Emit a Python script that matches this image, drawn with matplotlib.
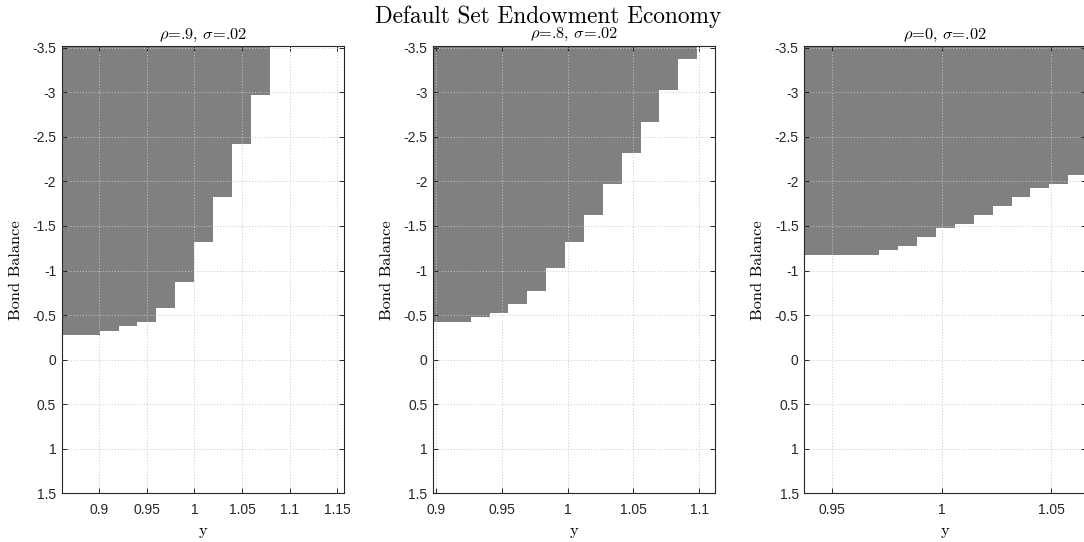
import numpy as np
import matplotlib
matplotlib.use('Agg')
import matplotlib.pyplot as plt
from matplotlib.ticker import FuncFormatter, FixedLocator

plt.rcParams['mathtext.fontset'] = 'cm'
plt.rcParams['axes.unicode_minus'] = False

# ---------------- data ----------------
fig_title = 'Default Set Endowment Economy'
panel_titles = [r'$\rho$=.9, $\sigma$=.02', r'$\rho$=.8, $\sigma$=.02', r'$\rho$=0, $\sigma$=.02']
xlabel_text = 'y'
ylabel_text = 'Bond Balance'

# panel 1 (rho=.9): endowment cell edges and default threshold (bond balance) per cell
y_edges_1 = [0.8608, 0.8808, 0.9007, 0.9207, 0.9403, 0.9598, 0.9797, 0.9997,
             1.0193, 1.0395, 1.0591, 1.0794]
default_b_1 = [-0.275, -0.275, -0.324, -0.377, -0.425, -0.582, -0.874, -1.319,
               -1.824, -2.419, -2.973]
xlim_1 = [0.8608, 1.1574]
xticks_1 = [0.9, 0.95, 1, 1.05, 1.1, 1.15]

# panel 2 (rho=.8)
y_edges_2 = [0.8975, 0.9119, 0.9264, 0.9406, 0.9545, 0.9690, 0.9835, 0.9979,
             1.0123, 1.0268, 1.0413, 1.0556, 1.0695, 1.0840, 1.0986]
default_b_2 = [-0.421, -0.421, -0.481, -0.522, -0.623, -0.769, -1.027, -1.323,
               -1.624, -1.970, -2.322, -2.666, -3.025, -3.373]
xlim_2 = [0.8975, 1.1121]
xticks_2 = [0.9, 0.95, 1, 1.05, 1.1]

# panel 3 (rho=0)
y_edges_3 = [0.93717, 0.94577, 0.95437, 0.96292, 0.97133, 0.98002, 0.98871, 0.99739,
             1.00608, 1.01477, 1.02346, 1.03214, 1.04037, 1.04906, 1.05761, 1.06598]
default_b_3 = [-1.173, -1.173, -1.173, -1.173, -1.233, -1.274, -1.375, -1.476,
               -1.521, -1.626, -1.723, -1.824, -1.925, -1.974, -2.071]
xlim_3 = [0.93717, 1.06598]
xticks_3 = [0.95, 1, 1.05]

b_limits = [-3.52, 1.5]
b_ticks = [-3.5, -3, -2.5, -2, -1.5, -1, -0.5, 0, 0.5, 1, 1.5]

panels = [
    (y_edges_1, default_b_1, xlim_1, xticks_1),
    (y_edges_2, default_b_2, xlim_2, xticks_2),
    (y_edges_3, default_b_3, xlim_3, xticks_3),
]

# ---------------- layout ----------------
W, H = 1084, 542
fig = plt.figure(figsize=(W / 100, H / 100), dpi=100)

ax_px = [(61.7, 344.3), (433.0, 715.0), (804.3, 1086.0)]
top_px, bot_px = 46.0, 493.3
title_pads = [4.8, 5.6, 4.8]

fmt = FuncFormatter(lambda v, p: '%g' % v)
tick_font = 'Liberation Sans'
serif = 'cmr10'

for i, ((edges, thr, xl, xt), (l, r)) in enumerate(zip(panels, ax_px)):
    ax = fig.add_axes([l / W, 1 - bot_px / H, (r - l) / W, (bot_px - top_px) / H])
    ax.stairs(thr, edges, baseline=b_limits[0], fill=True,
              color='#808080', linewidth=0, zorder=1)
    ax.set_xlim(xl)
    ax.set_ylim(b_limits[1], b_limits[0])
    ax.xaxis.set_major_locator(FixedLocator(xt))
    ax.yaxis.set_major_locator(FixedLocator(b_ticks))
    ax.xaxis.set_major_formatter(fmt)
    ax.yaxis.set_major_formatter(fmt)
    ax.set_axisbelow(False)
    ax.grid(True, color='#c8c8c8', linestyle=(0, (1, 2)), linewidth=0.7)
    ax.tick_params(direction='in', length=3.5, width=0.7, color='#262626',
                   top=True, right=True, labelsize=10, labelcolor='#262626')
    ax.tick_params(axis='x', pad=7)
    ax.tick_params(axis='y', pad=4)
    for lab in ax.get_xticklabels() + ax.get_yticklabels():
        lab.set_fontfamily(tick_font)
    for s in ax.spines.values():
        s.set_color('#262626')
        s.set_linewidth(0.8)
    ax.set_title(panel_titles[i], fontsize=11.8, family=serif, pad=title_pads[i])
    ax.set_ylabel(ylabel_text, fontsize=11.8, family=serif, va='center')
    ax.yaxis.set_label_coords(-45.7 / (r - l), 0.5)
    ax.set_xlabel(xlabel_text, fontsize=11.8, family=serif, va='baseline')
    ax.xaxis.set_label_coords(0.5, -(535 - bot_px) / (bot_px - top_px))

fig.text(548 / W, 1 - 23.5 / H, fig_title, fontsize=16.8, family=serif,
         ha='center', va='baseline')

fig.savefig('out.png', dpi=100)
